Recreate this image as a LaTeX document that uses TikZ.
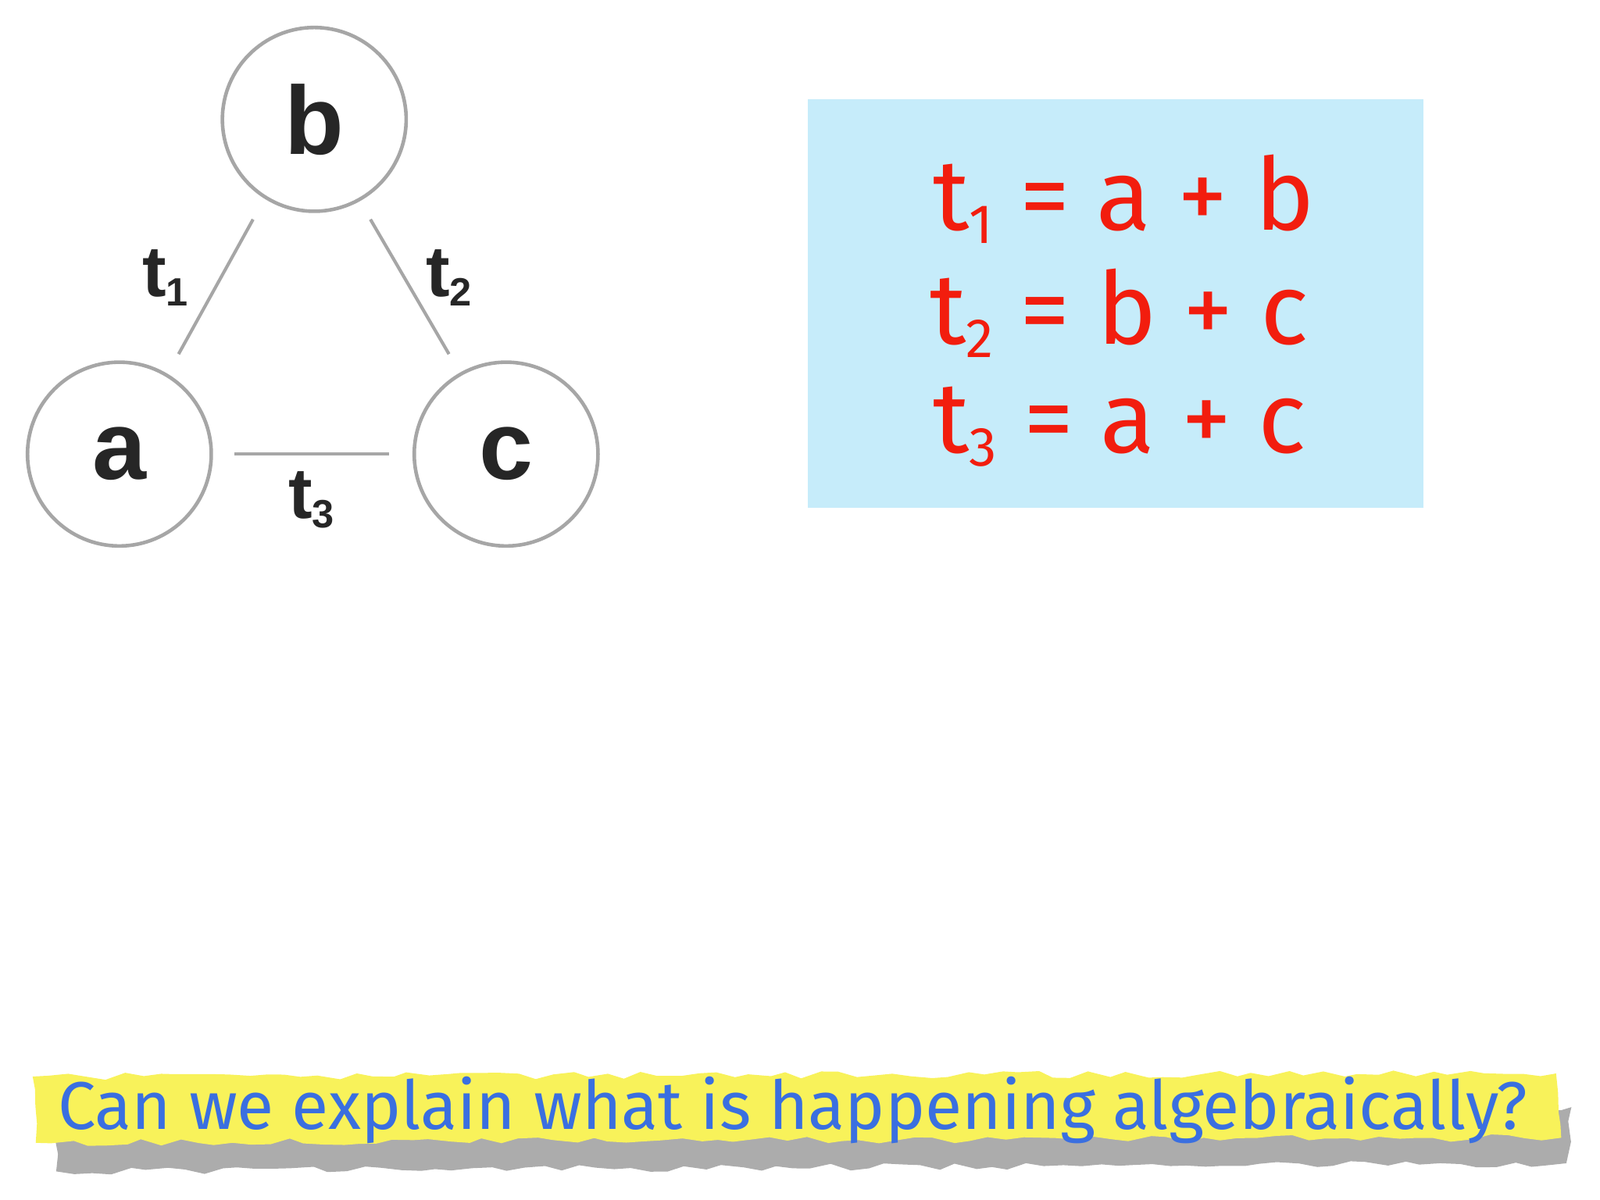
\documentclass[tikz,border=0pt]{standalone}
\usepackage{fontspec}
\setmainfont{Liberation Sans}
\newfontfamily\comic{Fira Sans}
\usetikzlibrary{decorations.pathmorphing}
\definecolor{boxblue}{HTML}{C6ECFA}
\definecolor{redtxt}{HTML}{F21D0E}
\definecolor{bantxt}{HTML}{3A6FE0}
\definecolor{banyel}{HTML}{F8F25A}
\newcommand{\sbs}[1]{\raisebox{-0.25ex}{\scalebox{0.55}{#1}}}
\tikzset{vert/.style={circle,draw=gray!70,line width=1pt,minimum size=1.8cm,inner sep=0pt,font=\fontsize{27}{27}\selectfont\bfseries,text=black!85},
edge/.style={draw=gray!70,line width=0.9pt},
elab/.style={font=\fontsize{20}{20}\selectfont\bfseries,text=black!85},
eq/.style={text=redtxt,font=\comic\fontsize{28}{28}\selectfont,anchor=west}}
\begin{document}
\begin{tikzpicture}[x=0.01cm,y=-0.01cm]
\useasboundingbox (0,0) rectangle (1568,1176);
\node[vert] (b) at (308,117) {b};
\node[vert] (a) at (117,445) {a};
\node[vert] (c) at (496,445) {c};
\coordinate (e1s) at (248,215); \coordinate (e1e) at (175,347);
\coordinate (e2s) at (363,215); \coordinate (e2e) at (440,347);
\coordinate (e3s) at (230,445); \coordinate (e3e) at (381,445);
\draw[edge] (e1s) -- (e1e);
\draw[edge] (e2s) -- (e2e);
\draw[edge] (e3s) -- (e3e);
\node[elab] (l1) at (162,272) {t\sbs{1}};
\node[elab] (l2) at (440,272) {t\sbs{2}};
\node[elab] (l3) at (305,490) {t\sbs{3}};
\fill[boxblue] (792,97) rectangle (1395,498);
\node[eq] (q1) at (902,195) {t\sbs{1} = a + b};
\node[eq] (q2) at (899,307) {t\sbs{2} = b + c};
\node[eq] (q3) at (902,418) {t\sbs{3} = a + c};
\fill[gray!65,decorate,decoration={random steps,segment length=5pt,amplitude=1pt}] (50,1090) -- (1540,1085) -- (1535,1140) -- (55,1148) -- cycle;
\fill[banyel,decorate,decoration={random steps,segment length=5pt,amplitude=1pt}] (32,1055) -- (1525,1052) -- (1530,1115) -- (35,1120) -- cycle;
\node[text=bantxt,font=\comic\fontsize{18.8}{19}\selectfont] (ban) at (777,1088) {Can we explain what is happening algebraically?};
\end{tikzpicture}
\end{document}
